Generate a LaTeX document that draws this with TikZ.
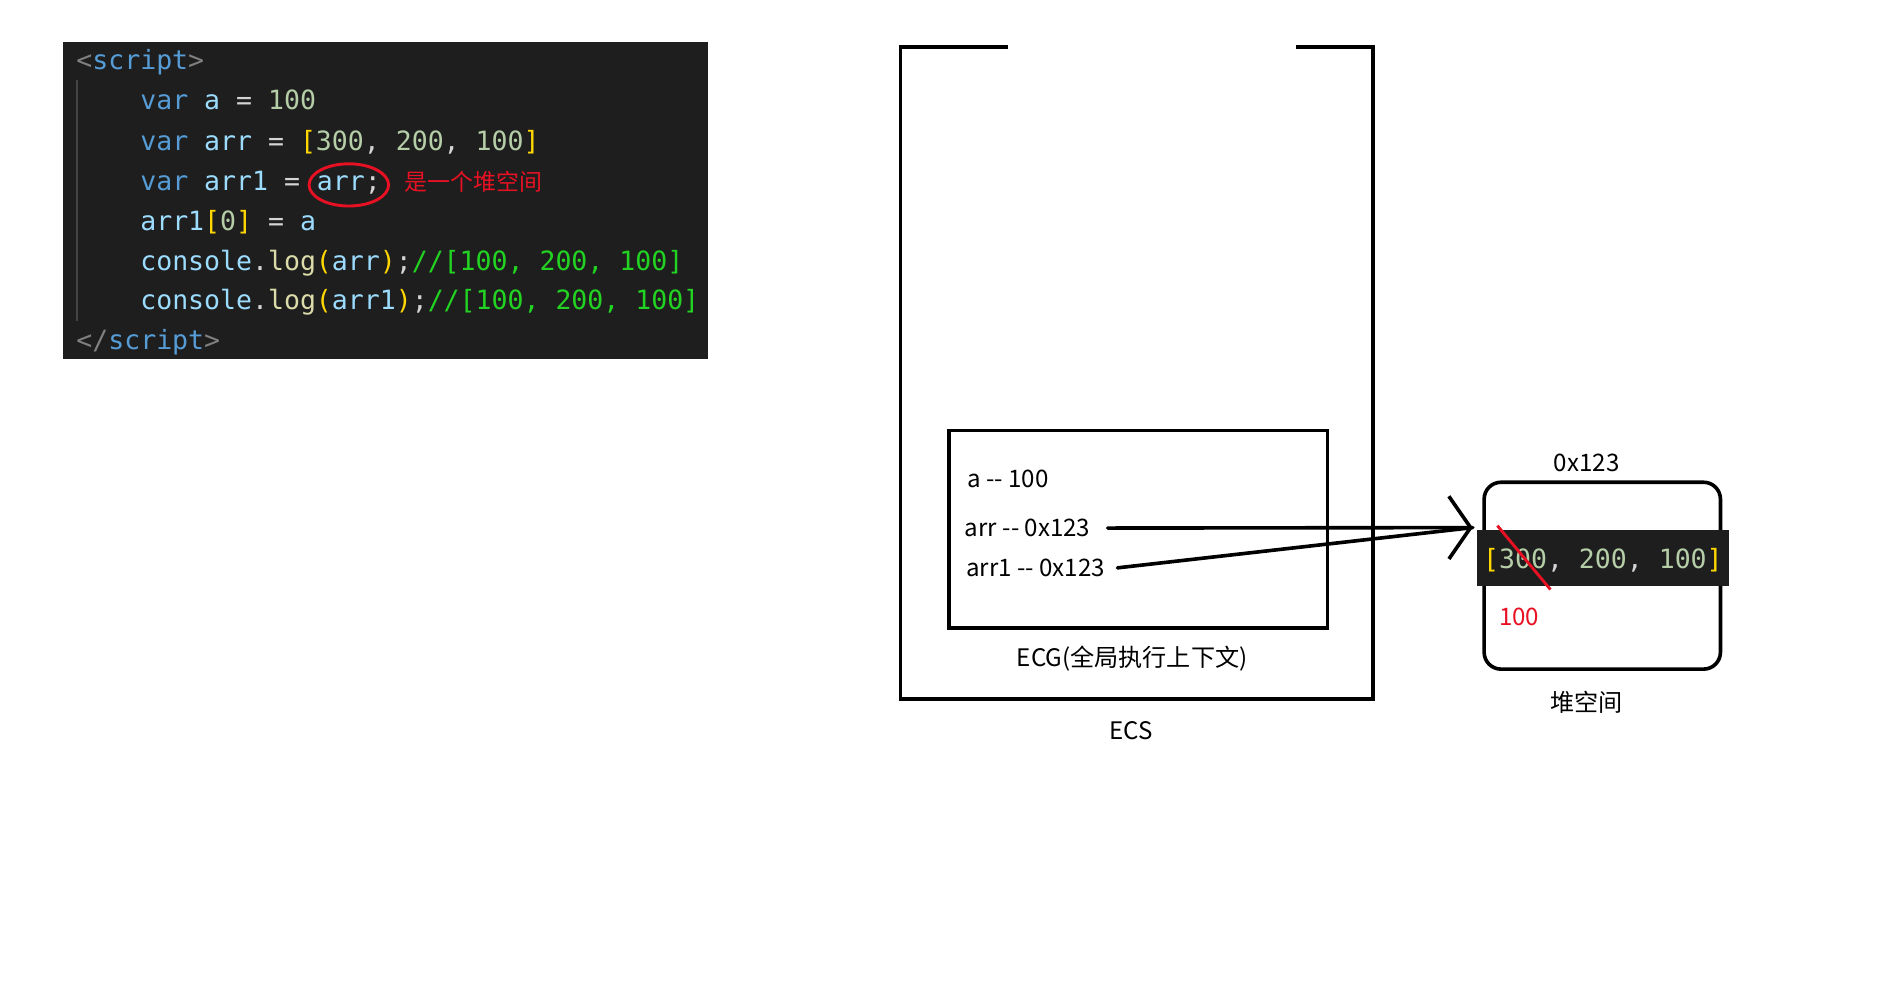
\documentclass[tikz,border=0pt]{standalone}
\usepackage{fontspec}
\setmainfont{Noto Sans CJK SC}
\setmonofont{DejaVu Sans Mono}
\usetikzlibrary{positioning,arrows.meta,shapes.geometric}
\definecolor{codebg}{HTML}{1E1E1E}
\definecolor{tagcol}{HTML}{808080}
\definecolor{kwcol}{HTML}{569CD6}
\definecolor{idcol}{HTML}{9CDCFE}
\definecolor{numcol}{HTML}{B5CEA8}
\definecolor{brkcol}{HTML}{FFD700}
\definecolor{fncol}{HTML}{DCDCAA}
\definecolor{opcol}{HTML}{D4D4D4}
\definecolor{cmtcol}{HTML}{22D322}
\definecolor{notered}{HTML}{E81123}
\definecolor{guidecol}{HTML}{454545}
\newcommand{\tg}[1]{\textcolor{tagcol}{#1}}
\newcommand{\kw}[1]{\textcolor{kwcol}{#1}}
\newcommand{\idn}[1]{\textcolor{idcol}{#1}}
\newcommand{\num}[1]{\textcolor{numcol}{#1}}
\newcommand{\brk}[1]{\textcolor{brkcol}{#1}}
\newcommand{\fnc}[1]{\textcolor{fncol}{#1}}
\newcommand{\op}[1]{\textcolor{opcol}{#1}}
\newcommand{\cmt}[1]{\textcolor{cmtcol}{#1}}
\tikzstyle{every node}=[font=\fontsize{10}{12}\selectfont]
\tikzstyle{frame} = [line width=1.5pt]
\tikzstyle{box} = [rectangle,draw=black,line width=1.5pt]
\tikzstyle{code} = [font=\ttfamily\fontsize{11}{13}\selectfont,inner sep=0pt,anchor=base west,text=opcol]
\tikzstyle{band} = [fill=codebg,font=\ttfamily\fontsize{11}{13}\selectfont,text=opcol,inner sep=0pt,text height=11pt,text depth=2.2pt]
\tikzstyle{varline} = [inner sep=0pt,anchor=west]
\tikzstyle{heapbox} = [draw,rounded corners=7pt,line width=1.5pt,minimum width=98pt,minimum height=77.5pt]
\tikzstyle{ptr} = [line width=1.5pt,line cap=round]
\tikzstyle{arrow} = [ptr,-{Straight Barb[length=9pt,width=26pt]}]

\begin{document}
\begin{tikzpicture}[x=0.5pt,y=-0.5pt]
\useasboundingbox (0,0) rectangle (1566,829);

% code
\node (editor) [fill=codebg,minimum width=267.5pt,minimum height=131.5pt,inner sep=0] at (319.5,166.5) {};
\draw[guidecol,line width=0.6pt] (64,66) -- (64,266);
\node (open) [code] at (63,58) {\tg{<}\kw{script}\tg{>}};
\node (vara) [code] at (116,91) {\kw{var} \idn{a} \op{=} \num{100}};
\node (vararr) [code] at (116,125) {\kw{var} \idn{arr} \op{=} \brk{[}\num{300}\op{,} \num{200}\op{,} \num{100}\brk{]}};
\node (vararr1) [code] at (116,158) {\kw{var} \idn{arr1} \op{=}};
\node (ref) [code] at ([xshift=6.6pt]vararr1.base east) {\idn{arr}\op{;}};
\node (note) [anchor=base west,inner sep=0,text=notered,font=\fontsize{9.5}{11}\selectfont] at ([xshift=9.5pt]ref.base east) {是一个堆空间};
\draw[notered,line width=1.2pt] (ref.center) ellipse [x radius=16.5pt,y radius=8.75pt];
\node (setarr) [code] at (116,191) {\idn{arr1}\brk{[}\num{0}\brk{]} \op{=} \idn{a}};
\node (logarr) [code] at (116,224) {\idn{console}\op{.}\fnc{log}\brk{(}\idn{arr}\brk{)}\op{;}\cmt{//[100, 200, 100]}};
\node (logarr1) [code] at (116,257) {\idn{console}\op{.}\fnc{log}\brk{(}\idn{arr1}\brk{)}\op{;}\cmt{//[100, 200, 100]}};
\node (close) [code] at (63,290) {\tg{</}\kw{script}\tg{>}};

% stack
\node (ecs) [minimum width=196pt,minimum height=270.5pt,inner sep=0,outer sep=0] at (943,309.5) {};
\coordinate (gapl) at (836,39);
\coordinate (gapr) at (1075,39);
\draw[frame] (gapl) -- (ecs.north west) -- (ecs.south west) -- (ecs.south east) -- (ecs.north east) -- (gapr);
\node (ecsname) [below=5.5pt of ecs,xshift=-2.5pt] {ECS};

\node (ecg) [box,minimum width=157pt,minimum height=82pt] at (944,439) {};
\node (ecgname) [below=3pt of ecg,xshift=-2.5pt] {ECG(全局执行上下文)};
\node (avar) [varline] at (802,397) {a -{}- 100};
\node (arrvar) [varline] at (800,438) {arr -{}- 0x123};
\node (arr1var) [varline] at (801,471) {arr1 -{}- 0x123};

% heap
\node (heap) [heapbox] at (1329,477.5) {};
\node (addr) [above=0pt of heap,xshift=-6.5pt] {0x123};
\node (heapname) [below=5pt of heap,xshift=-6.5pt] {堆空间};
\node (vals) [band,minimum width=104.5pt,minimum height=23pt] at (1329.5,463) {\brk{[}\num{300}, \num{200}, \num{100}\brk{]}};
\draw[notered,line width=1.2pt] (1242,436) -- (1286,489);
\node (newval) [text=notered] at (1260,512) {100};

\coordinate (tip) at ([xshift=-1.5pt,yshift=1pt]vals.north west);
\draw[arrow] ([xshift=7pt]arrvar.east) -- (tip);
\draw[ptr] ([xshift=5pt]arr1var.east) -- (tip);

\end{tikzpicture}
\end{document}
